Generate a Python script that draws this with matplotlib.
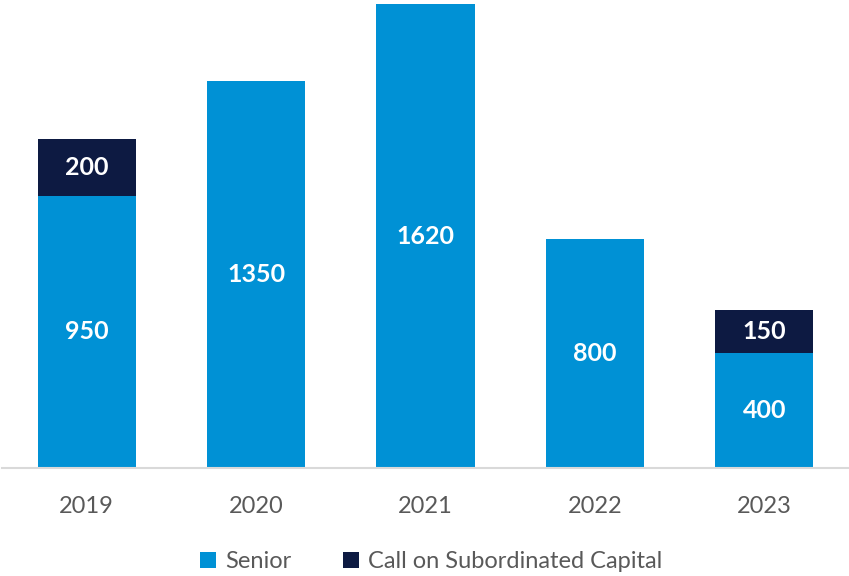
import matplotlib.pyplot as plt

plt.rcParams['font.family'] = ['Lato', 'DejaVu Sans']

years = ['2019', '2020', '2021', '2022', '2023']
senior = [950, 1350, 1620, 800, 400]
subordinated = [200, 0, 0, 0, 150]

senior_color = '#0091D5'
sub_color = '#0D1A42'

fig = plt.figure(figsize=(8.49, 5.76), dpi=100)
ax = fig.add_axes([2 / 849, 108 / 576, 1 - 2 / 849, 468 / 576])

x = range(len(years))
ax.bar(x, senior, width=0.58, color=senior_color, label='Senior')
ax.bar(x, subordinated, width=0.58, bottom=senior, color=sub_color,
       label='Call on Subordinated Capital')

# value labels in the middle of each segment
for i in x:
    ax.text(i, senior[i] / 2, str(senior[i]), ha='center', va='center',
            color='white', fontsize=18, fontweight='bold')
    if subordinated[i] > 0:
        ax.text(i, senior[i] + subordinated[i] / 2, str(subordinated[i]),
                ha='center', va='center', color='white', fontsize=18, fontweight='bold')

ax.set_xlim(-0.5, 4.5)
ax.set_ylim(0, 1634)
ax.set_xticks(list(x))
ax.set_xticklabels(years, fontsize=17, color='#595959')
ax.tick_params(axis='x', length=0, pad=20)
ax.set_yticks([])
for side in ['left', 'right', 'top']:
    ax.spines[side].set_visible(False)
ax.spines['bottom'].set_color('#D9D9D9')
ax.spines['bottom'].set_linewidth(1.5)

leg = fig.legend(loc='center', bbox_to_anchor=(0.508, 0.025), ncol=2, frameon=False,
                 fontsize=17, handlelength=0.65, handleheight=0.65, columnspacing=2.2,
                 handletextpad=0.4)
for t in leg.get_texts():
    t.set_color('#595959')

fig.savefig('out.png', dpi=100)
